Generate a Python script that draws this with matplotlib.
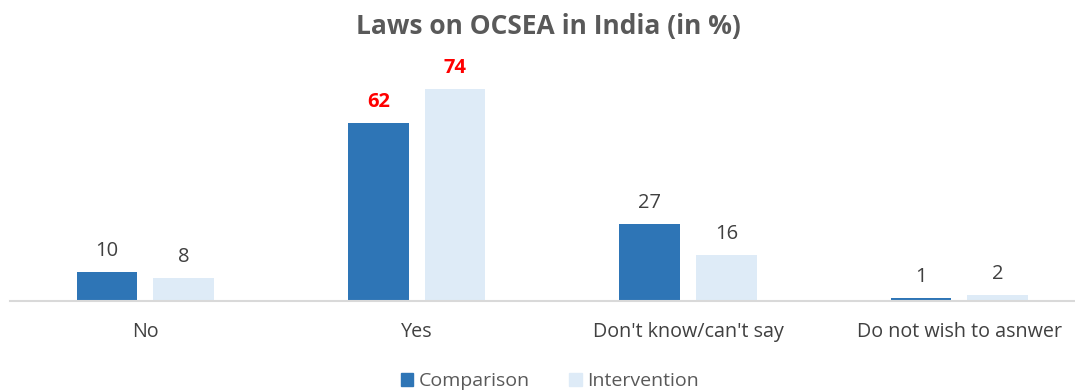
import matplotlib
matplotlib.use("Agg")
import matplotlib.pyplot as plt
import numpy as np
from matplotlib.patches import Patch

categories = ["No", "Yes", "Don't know/can't say", "Do not wish to asnwer"]
comparison = [10, 62, 27, 1]
intervention = [8, 74, 16, 2]

plt.rcParams["font.family"] = ["Open Sans", "DejaVu Sans"]

fig = plt.figure(figsize=(10.75, 3.92), dpi=100)
# baseline sits at ~301px from top, 2.865 px per percent
ax = fig.add_axes([9.5 / 1075, 91 / 392, 1, 80 * 2.865 / 392])

x = np.arange(len(categories))
w = 60 / 269
off = 38 / 269
blue = "#2E75B6"
light = "#DEEBF7"
ax.bar(x - off, comparison, w, color=blue)
ax.bar(x + off, intervention, w, color=light)

for i in range(len(categories)):
    hl = categories[i] == "Yes"
    kw = dict(color="#FF0000", fontweight="bold") if hl else dict(color="#404040")
    ax.annotate(str(comparison[i]), (x[i] - off, comparison[i]), xytext=(0, 8),
                textcoords="offset points", ha="center", va="bottom", fontsize=14.5, **kw)
    ax.annotate(str(intervention[i]), (x[i] + off, intervention[i]), xytext=(0, 8),
                textcoords="offset points", ha="center", va="bottom", fontsize=14.5, **kw)

ax.set_xlim(-0.5, 3 + 124 / 269)
ax.set_ylim(0, 80)
ax.set_xticks(x)
ax.set_xticklabels(categories, fontsize=14.2, color="#404040")
ax.tick_params(axis="x", length=0, pad=15)
ax.set_yticks([])
for s in ["top", "right", "left"]:
    ax.spines[s].set_visible(False)
ax.spines["bottom"].set_color("#D9D9D9")
ax.spines["bottom"].set_linewidth(1.5)

fig.suptitle("Laws on OCSEA in India (in %)", x=548 / 1075, y=1 - 13 / 392, va="top",
             fontsize=19, fontweight="bold", color="#595959")

handles = [Patch(color=blue, label="Comparison"), Patch(color=light, label="Intervention")]
fig.legend(handles=handles, loc="center", bbox_to_anchor=(550 / 1075, 1 - 381 / 392),
           ncol=2, frameon=False, fontsize=14, handlelength=0.65, handleheight=0.65,
           handletextpad=0.3, columnspacing=2.0, labelcolor="#595959")

fig.savefig("out.png", dpi=100)
